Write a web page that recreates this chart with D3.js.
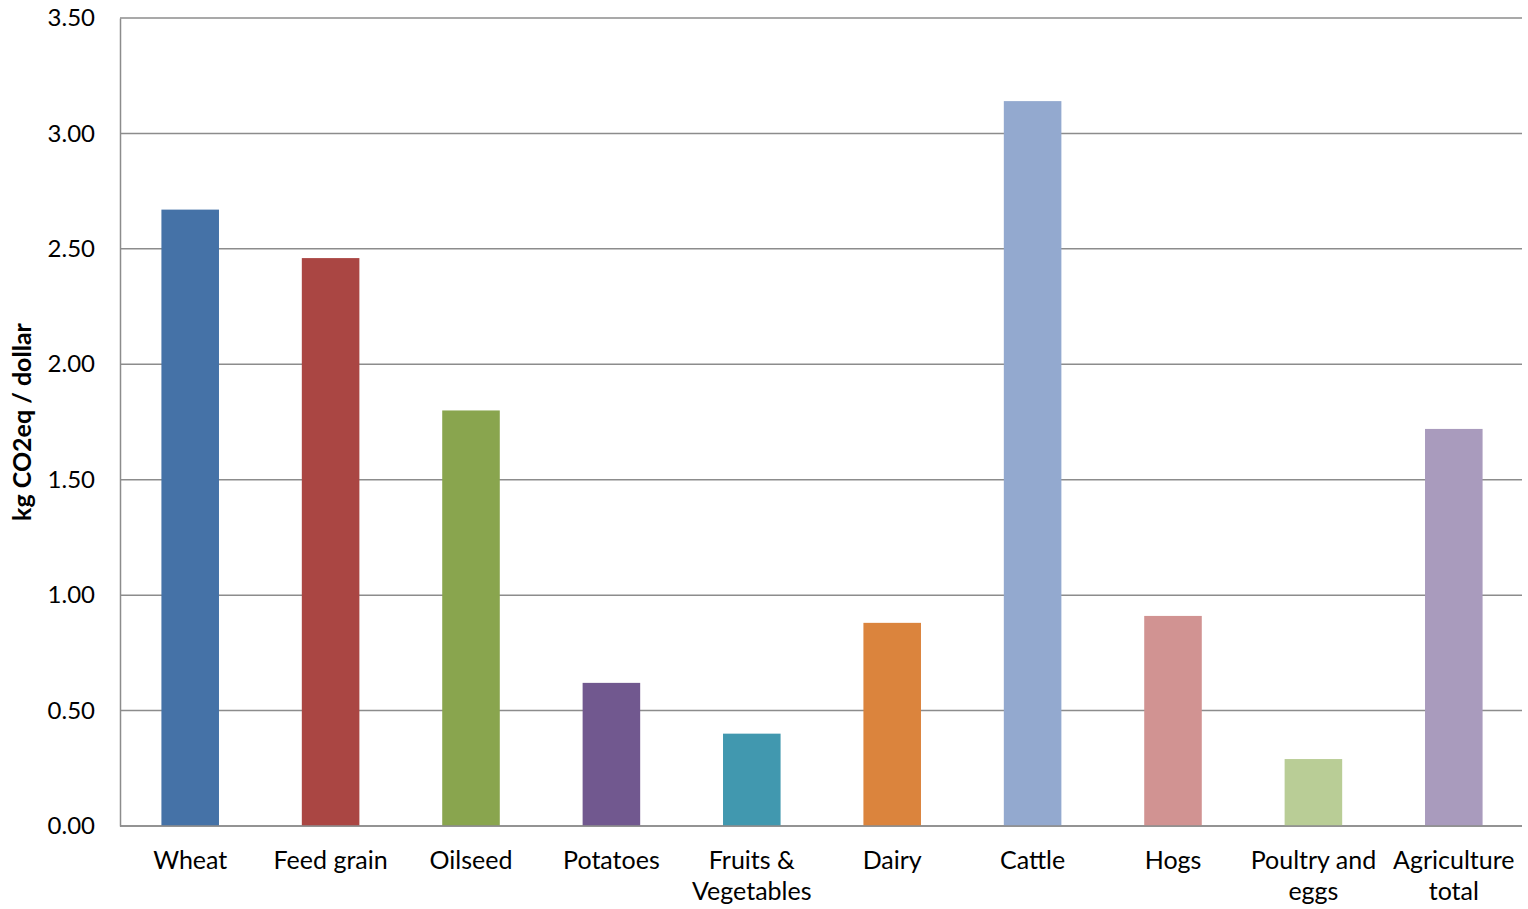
<!DOCTYPE html>
<html lang="en">
<head>
    <meta charset="UTF-8" />
    <title>kg CO2eq / dollar</title>
    <script src="https://d3js.org/d3.v7.min.js"></script>
    <style>
        body { margin: 0; background: #fff; }
        text { font-family: Lato, "Open Sans", sans-serif; fill: #000; }
    </style>
</head>
<body>
    <script>
        // data
        const categories = ["Wheat", "Feed grain", "Oilseed", "Potatoes", "Fruits & Vegetables", "Dairy", "Cattle", "Hogs", "Poultry and eggs", "Agriculture total"];
        const labelLines = [["Wheat"], ["Feed grain"], ["Oilseed"], ["Potatoes"], ["Fruits &", "Vegetables"], ["Dairy"], ["Cattle"], ["Hogs"], ["Poultry and", "eggs"], ["Agriculture", "total"]];
        const values = [2.67, 2.46, 1.80, 0.62, 0.40, 0.88, 3.14, 0.91, 0.29, 1.72];
        const yTicks = [0, 0.5, 1, 1.5, 2, 2.5, 3, 3.5];
        const colors = ["#4572a7", "#aa4643", "#89a54e", "#71588f", "#4198af", "#db843d", "#93a9cf", "#d19392", "#b9cd96", "#a99bbd"];

        const width = 1528, height = 909;
        const margin = { top: 18, right: 4, bottom: 83, left: 120 };

        const svg = d3.select("body").append("svg")
            .attr("width", width)
            .attr("height", height);

        const x = d3.scaleBand()
            .domain(categories)
            .range([margin.left, width - margin.right])
            .paddingInner(0.59)
            .paddingOuter(0.295);

        const y = d3.scaleLinear()
            .domain([0, 3.5])
            .range([height - margin.bottom, margin.top]);

        // gridlines
        svg.append("g")
            .selectAll("line")
            .data(yTicks)
            .join("line")
            .attr("x1", margin.left)
            .attr("x2", width - margin.right - 2)
            .attr("y1", d => y(d))
            .attr("y2", d => y(d))
            .attr("stroke", "#8c8c8c")
            .attr("stroke-width", 1.5);

        // bars
        svg.append("g")
            .selectAll("rect")
            .data(values)
            .join("rect")
            .attr("x", (d, i) => x(categories[i]))
            .attr("width", x.bandwidth())
            .attr("y", d => y(d))
            .attr("height", d => y(0) - y(d))
            .attr("fill", (d, i) => colors[i]);

        // y axis
        const yAxis = svg.append("g")
            .attr("transform", `translate(${margin.left},0)`)
            .call(d3.axisLeft(y).tickValues(yTicks).tickFormat(d3.format(".2f")).tickSize(0).tickPadding(25));
        yAxis.select(".domain").attr("stroke", "#8c8c8c").attr("stroke-width", 1.5);
        yAxis.selectAll("text")
            .style("font-size", "24px")
            .style("font-family", "Lato, sans-serif")
            .attr("fill", "#000");

        // x axis line
        svg.append("line")
            .attr("x1", margin.left)
            .attr("x2", width - margin.right - 2)
            .attr("y1", y(0))
            .attr("y2", y(0))
            .attr("stroke", "#8c8c8c")
            .attr("stroke-width", 1.5);

        // x labels
        const xl = svg.append("g")
            .selectAll("text")
            .data(labelLines)
            .join("text")
            .attr("text-anchor", "middle")
            .style("font-size", "25px")
            .attr("transform", (d, i) => `translate(${x(categories[i]) + x.bandwidth() / 2},${y(0) + 43})`);
        xl.selectAll("tspan")
            .data(d => d)
            .join("tspan")
            .attr("x", 0)
            .attr("dy", (d, i) => i === 0 ? 0 : 31)
            .text(d => d);

        // y axis title
        svg.append("text")
            .attr("transform", `translate(25,${(y(0) + y(3.5)) / 2}) rotate(-90)`)
            .attr("text-anchor", "middle")
            .attr("dominant-baseline", "middle")
            .style("font-size", "25px")
            .style("font-weight", "bold")
            .text("kg CO2eq / dollar");
    </script>
</body>
</html>
